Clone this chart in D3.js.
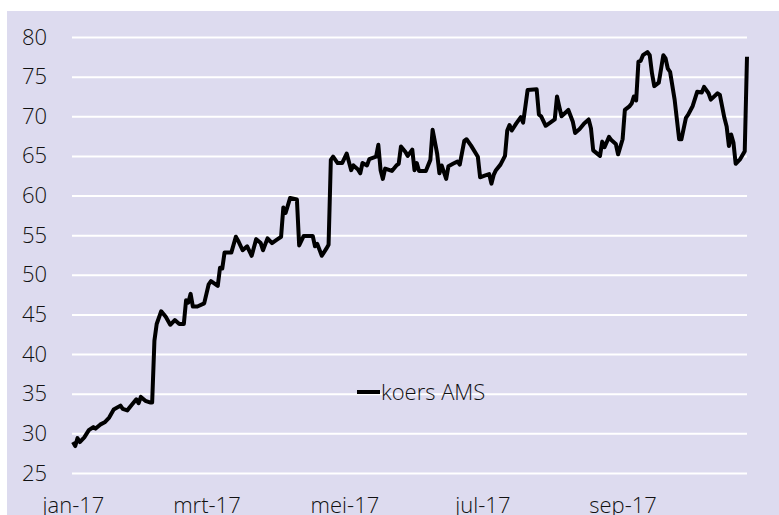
<!DOCTYPE html>
<html lang="nl">
<head>
<meta charset="utf-8" />
<title>koers AMS</title>
<script src="https://cdn.jsdelivr.net/npm/d3@7"></script>
<style>
  body { margin: 0; background: #fff; }
  svg text { font-family: "Open Sans", "Noto Sans", sans-serif; }
</style>
</head>
<body>
<script>
// koers AMS 2017
var dates = [
  "2017-01-02","2017-01-03","2017-01-04","2017-01-05","2017-01-07","2017-01-09","2017-01-11","2017-01-12",
  "2017-01-14","2017-01-16","2017-01-18","2017-01-20","2017-01-23","2017-01-24","2017-01-26","2017-01-28",
  "2017-01-30","2017-01-31","2017-02-01","2017-02-03","2017-02-05","2017-02-06","2017-02-07","2017-02-08",
  "2017-02-10","2017-02-12","2017-02-14","2017-02-16","2017-02-18","2017-02-20","2017-02-21","2017-02-22",
  "2017-02-23","2017-02-24","2017-02-26","2017-03-01","2017-03-03","2017-03-04","2017-03-07","2017-03-08",
  "2017-03-09","2017-03-10","2017-03-13","2017-03-15","2017-03-16","2017-03-18","2017-03-20","2017-03-22",
  "2017-03-24","2017-03-26","2017-03-27","2017-03-29","2017-03-31","2017-04-02","2017-04-04","2017-04-05",
  "2017-04-06","2017-04-08","2017-04-11","2017-04-12","2017-04-14","2017-04-18","2017-04-19","2017-04-20",
  "2017-04-22","2017-04-24","2017-04-25","2017-04-26","2017-04-27","2017-04-29","2017-05-01","2017-05-03",
  "2017-05-05","2017-05-06","2017-05-08","2017-05-09","2017-05-10","2017-05-12","2017-05-13","2017-05-16",
  "2017-05-17","2017-05-18","2017-05-19","2017-05-20","2017-05-23","2017-05-25","2017-05-26","2017-05-27",
  "2017-05-29","2017-05-30","2017-06-01","2017-06-02","2017-06-03","2017-06-04","2017-06-07","2017-06-09",
  "2017-06-10","2017-06-12","2017-06-13","2017-06-14","2017-06-16","2017-06-17","2017-06-19","2017-06-21",
  "2017-06-22","2017-06-24","2017-06-25","2017-06-27","2017-06-30","2017-07-01","2017-07-03","2017-07-05",
  "2017-07-06","2017-07-07","2017-07-08","2017-07-10","2017-07-12","2017-07-13","2017-07-14","2017-07-15",
  "2017-07-17","2017-07-19","2017-07-20","2017-07-21","2017-07-22","2017-07-26","2017-07-27","2017-07-28",
  "2017-07-30","2017-08-01","2017-08-03","2017-08-04","2017-08-05","2017-08-06","2017-08-09","2017-08-11",
  "2017-08-12","2017-08-14","2017-08-16","2017-08-18","2017-08-19","2017-08-20","2017-08-23","2017-08-24",
  "2017-08-25","2017-08-27","2017-08-28","2017-08-30","2017-08-31","2017-09-02","2017-09-03","2017-09-05",
  "2017-09-06","2017-09-07","2017-09-08","2017-09-09","2017-09-10","2017-09-11","2017-09-13","2017-09-14",
  "2017-09-15","2017-09-16","2017-09-18","2017-09-20","2017-09-21","2017-09-22","2017-09-23","2017-09-25",
  "2017-09-27","2017-09-28","2017-09-30","2017-10-01","2017-10-03","2017-10-05","2017-10-07","2017-10-08",
  "2017-10-10","2017-10-11","2017-10-14","2017-10-15","2017-10-17","2017-10-18","2017-10-19","2017-10-20",
  "2017-10-21","2017-10-22","2017-10-24","2017-10-26","2017-10-27"
];
var koers = [
  28.9, 28.4, 29.4, 28.9, 29.5, 30.4, 30.8, 30.6,
  31.1, 31.4, 32.0, 33.0, 33.5, 33.1, 32.9, 33.6,
  34.3, 33.8, 34.6, 34.1, 33.9, 33.9, 41.7, 43.8,
  45.4, 44.7, 43.7, 44.3, 43.8, 43.8, 46.8, 46.5,
  47.6, 46.0, 46.0, 46.4, 48.8, 49.2, 48.6, 50.9,
  50.8, 52.8, 52.8, 54.8, 54.3, 53.1, 53.6, 52.4,
  54.5, 54.0, 53.1, 54.6, 54.0, 54.4, 54.8, 58.5,
  57.8, 59.7, 59.5, 53.7, 54.9, 54.9, 53.6, 53.9,
  52.4, 53.3, 53.8, 64.5, 64.9, 64.1, 64.1, 65.3,
  63.2, 63.8, 63.3, 62.8, 64.1, 63.8, 64.6, 64.9,
  66.4, 63.2, 62.1, 63.4, 63.1, 63.8, 64.0, 66.2,
  65.5, 65.0, 65.8, 63.2, 64.1, 63.1, 63.1, 64.5,
  68.3, 65.3, 62.8, 63.8, 62.1, 63.7, 64.0, 64.3,
  63.9, 66.9, 67.1, 66.3, 64.9, 62.3, 62.5, 62.7,
  61.5, 62.6, 63.2, 63.9, 65.0, 68.2, 68.9, 68.2,
  69.1, 69.9, 69.2, 71.2, 73.3, 73.4, 70.2, 70.0,
  68.8, 69.2, 69.6, 72.5, 71.2, 70.0, 70.8, 69.3,
  67.9, 68.4, 69.1, 69.6, 68.5, 65.7, 65.0, 66.8,
  66.1, 67.4, 67.0, 66.5, 65.2, 67.1, 70.8, 71.25,
  71.6, 72.5, 72.0, 76.9, 77.0, 77.7, 78.1, 77.7,
  75.4, 73.8, 74.25, 77.7, 77.3, 76.0, 75.6, 72.1,
  67.1, 67.1, 69.8, 70.2, 71.3, 73.1, 73.0, 73.7,
  72.9, 72.1, 72.9, 72.7, 69.8, 68.7, 66.25, 67.7,
  66.7, 64.0, 64.6, 65.6, 77.5
];
var yTicks = [25, 30, 35, 40, 45, 50, 55, 60, 65, 70, 75, 80];
var xTicks = ["2017-01-02", "2017-03-02", "2017-05-02", "2017-07-02", "2017-09-02"];
var maanden = ["jan", "feb", "mrt", "apr", "mei", "jun", "jul", "aug", "sep", "okt", "nov", "dec"];
var seriesName = "koers AMS";

var w = 779;
var h = 515;
var parse = d3.timeParse("%Y-%m-%d");
var data = dates.map(function(d, i) {
  return { date: parse(d), value: koers[i] };
});

var xScale = d3.scaleTime()
  .domain(d3.extent(data, function(d) { return d.date; }))
  .range([73, 747]);
var yScale = d3.scaleLinear()
  .domain([25, 80])
  .range([473, 37]);

var svg = d3.select("body")
  .append("svg")
  .attr("width", w)
  .attr("height", h);

// chart background
svg.append("rect")
  .attr("x", 7)
  .attr("y", 11)
  .attr("width", w - 7)
  .attr("height", h - 11)
  .attr("fill", "#dddbef");

// gridlines + y labels
var yAxis = d3.axisLeft(yScale)
  .tickValues(yTicks)
  .tickSize(-(747 - 72))
  .tickPadding(25);
var gy = svg.append("g")
  .attr("transform", "translate(72,0)")
  .call(yAxis);
gy.select(".domain").remove();
gy.selectAll(".tick line")
  .attr("stroke", "#fff")
  .attr("stroke-width", 2);
gy.selectAll(".tick text")
  .attr("font-size", 22)
  .attr("font-weight", 300)
  .attr("fill", "#111")
  .attr("font-family", "'Open Sans', sans-serif");

// x labels
var xAxis = d3.axisBottom(xScale)
  .tickValues(xTicks.map(parse))
  .tickSize(0)
  .tickFormat(function(d) {
    return maanden[d.getMonth()] + "-" + d3.timeFormat("%y")(d);
  });
var gx = svg.append("g")
  .attr("transform", "translate(0,473)")
  .call(xAxis);
gx.select(".domain").remove();
gx.selectAll(".tick text")
  .attr("font-size", 22)
  .attr("font-weight", 300)
  .attr("fill", "#111")
  .attr("dy", 0)
  .attr("y", 40)
  .attr("font-family", "'Open Sans', sans-serif");

// line
var line = d3.line()
  .x(function(d) { return xScale(d.date); })
  .y(function(d) { return yScale(d.value); });
svg.append("path")
  .datum(data)
  .attr("d", line)
  .attr("fill", "none")
  .attr("stroke", "#000")
  .attr("stroke-width", 4)
  .attr("stroke-linejoin", "round");

// legend
svg.append("line")
  .attr("x1", 357)
  .attr("x2", 380)
  .attr("y1", 392)
  .attr("y2", 392)
  .attr("stroke", "#000")
  .attr("stroke-width", 4);
svg.append("text")
  .attr("x", 381)
  .attr("y", 400)
  .attr("font-size", 22)
  .attr("font-weight", 300)
  .attr("fill", "#111")
  .text(seriesName);
</script>
</body>
</html>
